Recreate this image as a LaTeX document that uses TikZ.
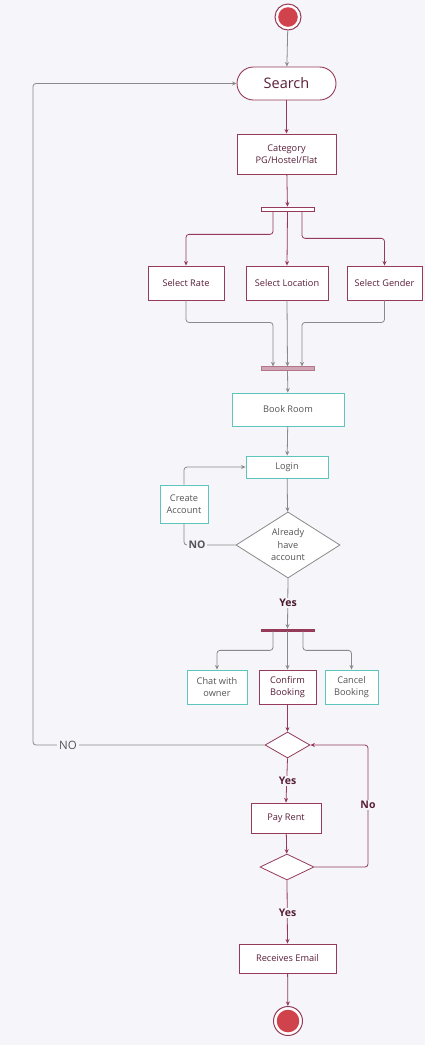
\documentclass[tikz,border=0pt]{standalone}
\usepackage{fontspec}
\setmainfont{Open Sans}
\usetikzlibrary{shapes.geometric,arrows.meta,calc}
\definecolor{mar}{HTML}{963A5A}
\definecolor{martext}{HTML}{5A1F38}
\definecolor{teal}{HTML}{5EC4BE}
\definecolor{gr}{HTML}{8A8A8A}
\definecolor{grtext}{HTML}{555555}
\definecolor{bg}{HTML}{F5F5FA}
\definecolor{dotred}{HTML}{D0424C}
\tikzset{
  x=1pt,y=-1pt,
  every node/.style={font=\fontsize{9.2}{12.5}\selectfont, align=center, inner sep=0pt},
  mbox/.style={draw=mar, fill=white, line width=0.9pt, text=martext},
  tbox/.style={draw=teal, fill=white, line width=0.9pt, text=grtext},
  mline/.style={draw=mar, line width=0.8pt, rounded corners=3pt},
  gline/.style={draw=gr, line width=0.8pt, rounded corners=3pt},
  arr/.style={-{Stealth[length=4.5pt,width=4pt]}},
  lab/.style={fill=bg, inner sep=1.5pt, font=\bfseries\fontsize{10.5}{12}\selectfont},
  termnode/.style={circle, draw=mar, line width=1pt, fill=white, minimum size=#1,
     path picture={\fill[dotred] (path picture bounding box.center) circle ({#1/2-3.2pt});}},
  bar/.style={draw=mar, line width=0.7pt, minimum width=53pt},
}
\begin{document}
\begin{tikzpicture}
\fill[bg] (0,0) rectangle (425,1045);
\useasboundingbox (0,0) rectangle (425,1045);

% nodes
\node[termnode=26pt] (start) at (288,17) {};
\node[mbox, rounded corners=16.5pt, minimum width=99pt, minimum height=33pt,
  font=\fontsize{14.5}{17}\selectfont] (search) at (286.5,83.5) {Search};
\node[mbox, minimum width=99pt, minimum height=40pt] (cat) at (286.5,154) {Category\\PG/Hostel/Flat};
\node[bar, fill=white, minimum height=4pt] (bar1) at (287.5,209) {};
\node[mbox, minimum width=76pt, minimum height=34pt] (rate) at (186,283) {Select Rate};
\node[mbox, minimum width=82pt, minimum height=34pt] (loc) at (287,283) {Select Location};
\node[mbox, minimum width=75pt, minimum height=34pt] (gender) at (384.5,283) {Select Gender};
\node[bar, fill=mar!45, draw=mar!70, minimum height=3.5pt] (bar2) at (287.5,368.5) {};
\node[tbox, minimum width=112pt, minimum height=33pt] (book) at (288,409.5) {Book Room};
\node[tbox, minimum width=82pt, minimum height=22pt] (login) at (287,467) {Login};
\node[tbox, minimum width=48pt, minimum height=38pt] (create) at (184,504) {Create\\Account};
\node[diamond, draw=gr, fill=white, line width=0.8pt, minimum width=104pt, minimum height=64pt,
  text=grtext] (d1) at (288,545) {Already\\have\\account};
\node[bar, fill=mar, minimum height=2pt] (bar3) at (287.5,630) {};
\node[tbox, minimum width=60pt, minimum height=34pt] (chat) at (217,687) {Chat with\\owner};
\node[mbox, minimum width=57pt, minimum height=34pt] (confirm) at (287.5,687) {Confirm\\Booking};
\node[tbox, minimum width=53pt, minimum height=34pt] (cancel) at (351.5,687) {Cancel\\Booking};
\node[diamond, draw=mar, fill=white, line width=0.8pt, minimum width=45pt, minimum height=26pt] (d2) at (287.5,745) {};
\node[mbox, minimum width=70pt, minimum height=30pt] (pay) at (286,818) {Pay Rent};
\node[diamond, draw=mar, fill=white, line width=0.8pt, minimum width=54pt, minimum height=26pt] (d3) at (287,867) {};
\node[mbox, minimum width=97pt, minimum height=29pt] (email) at (287.5,958.5) {Receives Email};
\node[termnode=29pt] (end) at (288,1021) {};

% connectors
\draw[gline, arr] (start) -- (search);
\draw[mline, arr] (search) -- (cat);
\draw[mline, arr] (cat) -- (bar1);
\draw[mline, arr] ([xshift=-14.5pt]bar1.south) -- ++(0,23) -| (rate.north);
\draw[mline, arr] (bar1.south) -- (loc.north);
\draw[mline, arr] ([xshift=14.5pt]bar1.south) -- ++(0,27) -| (gender.north);
\draw[gline, arr] (rate.south) -- ++(0,22) -| ([xshift=-14.5pt]bar2.north);
\draw[gline, arr] (loc.south) -- (bar2.north);
\draw[gline, arr] (gender.south) -- ++(0,22) -| ([xshift=14.5pt]bar2.north);
\draw[gline, arr] (bar2) -- (book);
\draw[gline, arr] (book) -- (login);
\draw[gline, arr] (login) -- (d1);
\draw[gline] (d1.west) -| (create.south);
\node[lab, text=grtext] (no1) at (197,545) {NO};
\draw[gline, arr] (create.north) |- (login.west);
\draw[gline, arr] (d1.south) -- (bar3.north);
\node[lab, text=martext!80!black] (yes1) at (288,603) {Yes};
\draw[gline, arr] ([xshift=-14.5pt]bar3.south) -- ++(0,19) -| (chat.north);
\draw[gline, arr] (bar3.south) -- (confirm.north);
\draw[gline, arr] ([xshift=15.5pt]bar3.south) -- ++(0,19) -| (cancel.north);
\draw[mline, arr] (confirm) -- (d2);
\coordinate (loopl) at (33,745);
\draw[gline, arr] (d2.west) -- (loopl) |- (search.west);
\node[fill=bg, inner sep=2pt, text=grtext, font=\fontsize{11.5}{13}\selectfont] (no2) at (68,745) {NO};
\draw[mline, arr] (d2.south) -- (pay.north);
\node[lab, text=martext] (yes2) at (287.5,781) {Yes};
\draw[mline, arr] (pay) -- (d3);
\coordinate (loopr) at (368,867);
\draw[mline, arr] (d3.east) -- (loopr) |- (d2.east);
\node[lab, text=martext] (no3) at (368,805) {No};
\draw[mline, arr] (d3.south) -- (email.north);
\node[lab, text=martext] (yes3) at (287.5,913) {Yes};
\draw[mline, arr] (email) -- (end);
\end{tikzpicture}
\end{document}
